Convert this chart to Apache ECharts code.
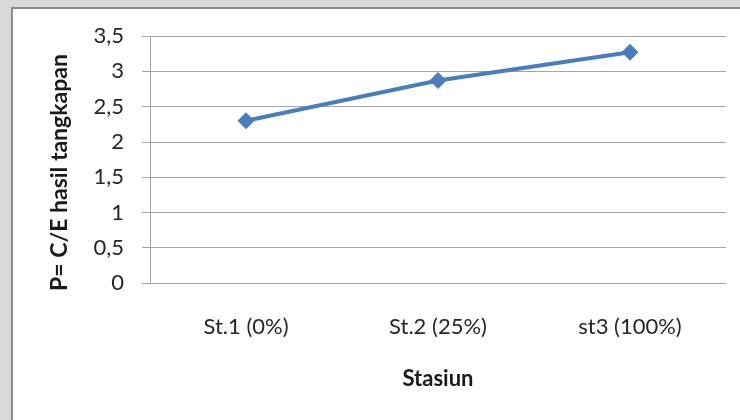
<!DOCTYPE html>
<html>
<head>
<meta charset="utf-8">
<script src="https://cdn.jsdelivr.net/npm/echarts@6/dist/echarts.min.js"></script>
<style>
  html, body { margin: 0; padding: 0; background: #d9d9d9; }
  #frame { position: absolute; left: 11px; top: 7px; right: 0; bottom: 0; background: #ffffff;
           border-left: 2px solid #8c8c8c; border-top: 2px solid #8c8c8c; }
  #chart { position: absolute; left: 0; top: 0; width: 740px; height: 420px; }
</style>
</head>
<body>
<div id="frame"></div>
<div id="chart"></div>
<script>
const categories = ['St.1 (0%)', 'St.2 (25%)', 'st3 (100%)'];
const values = [2.3, 2.87, 3.27];
const yTicks = { min: 0, max: 3.5, interval: 0.5 };
const xTitle = 'Stasiun';
const yTitle = 'P= C/E hasil tangkapan';

const FONT = 'Lato';
const chart = echarts.init(document.getElementById('chart'), null, { renderer: 'canvas' });
chart.setOption({
  backgroundColor: 'transparent',
  animation: false,
  grid: { left: 150, right: 14, top: 36, bottom: 137, containLabel: false },
  xAxis: {
    type: 'category',
    data: categories,
    boundaryGap: true,
    name: xTitle,
    nameLocation: 'middle',
    nameGap: 85,
    nameTextStyle: { fontFamily: FONT, fontSize: 22, fontWeight: 'bold', color: '#1a1a1a' },
    axisLine: { show: true, lineStyle: { color: '#a6a6a6', width: 1 } },
    axisTick: { show: false },
    axisLabel: { fontFamily: FONT, fontSize: 22, color: '#262626', margin: 33 }
  },
  yAxis: {
    type: 'value',
    min: yTicks.min, max: yTicks.max, interval: yTicks.interval,
    name: yTitle,
    nameLocation: 'middle',
    nameGap: 79,
    nameRotate: 90,
    nameTextStyle: { fontFamily: FONT, fontSize: 23, fontWeight: 'bold', color: '#1a1a1a', padding: [0, 26, 0, 0] },
    axisLine: { show: true, lineStyle: { color: '#a6a6a6', width: 1 } },
    axisTick: { show: true, length: 8, inside: false, lineStyle: { color: '#a6a6a6' } },
    splitLine: { show: true, lineStyle: { color: '#a6a6a6', width: 1 } },
    axisLabel: {
      fontFamily: FONT, fontSize: 22, color: '#262626', margin: 26,
      formatter: v => String(v).replace('.', ',')
    }
  },
  series: [{
    type: 'line',
    data: values,
    symbol: 'diamond',
    symbolSize: 17,
    itemStyle: { color: '#4a7ebb' },
    lineStyle: { color: '#4a7ebb', width: 4 }
  }]
});
</script>
</body>
</html>
